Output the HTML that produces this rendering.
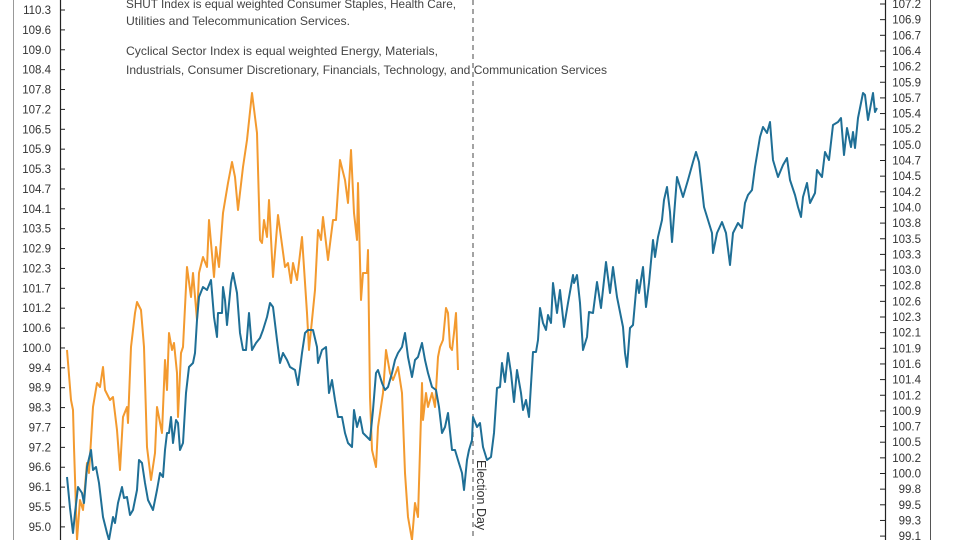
<!DOCTYPE html>
<html><head><meta charset="utf-8"><style>
html,body{margin:0;padding:0;background:#fff;}
svg{display:block;font-family:"Liberation Sans",sans-serif;}
</style></head><body>
<svg width="960" height="540" viewBox="0 0 960 540" xmlns="http://www.w3.org/2000/svg">
<rect width="960" height="540" fill="#fff"/>
<line x1="13.5" y1="0" x2="13.5" y2="540" stroke="#999" stroke-width="1"/>
<line x1="930.5" y1="0" x2="930.5" y2="540" stroke="#555" stroke-width="1"/>
<line x1="60.5" y1="0" x2="60.5" y2="540" stroke="#222" stroke-width="1.2"/>
<line x1="885.5" y1="0" x2="885.5" y2="540" stroke="#222" stroke-width="1.2"/>
<g id="lt" font-size="11.5" fill="#333" text-anchor="end"></g>
<g id="rt" font-size="11.5" fill="#333" text-anchor="start"></g>
<g fill="#444" font-size="12">
<text x="126" y="8" textLength="330" lengthAdjust="spacingAndGlyphs">SHUT Index is equal weighted Consumer Staples, Health Care,</text>
<text x="126" y="25" textLength="224" lengthAdjust="spacingAndGlyphs">Utilities and Telecommunication Services.</text>
<text x="126" y="55" textLength="312" lengthAdjust="spacingAndGlyphs">Cyclical Sector Index is equal weighted Energy, Materials,</text>
<text x="126" y="74" textLength="481" lengthAdjust="spacingAndGlyphs">Industrials, Consumer Discretionary, Financials, Technology, and Communication Services</text>
</g>
<line x1="473" y1="0" x2="473" y2="540" stroke="#666" stroke-width="1.2" stroke-dasharray="5,4"/>
<text transform="translate(477,460) rotate(90)" font-size="12.5" fill="#333">Election Day</text>
<polyline fill="none" stroke="#f39a2f" stroke-width="2" stroke-linejoin="round" points="67,350 71,400 73,410 74,447 77,540 80,500 83,510 87,463 89,473 93,407 97,383 100,387 103,367 105,390 110,400 113,397 117,430 120,470 123,417 127,407 128,423 131,347 135,313 137,302 141,310 144,347 147,447 151,480 155,453 157,407 162,433 165,360 167,390 169,333 172,350 174,343 177,373 178,417 181,353 183,347 187,267 191,297 193,273 197,320 199,273 203,257 207,267 209,220 214,277 216,247 219,267 223,213 228,183 232,162 235,177 238,210 243,167 247,140 252,93 257,133 260,240 262,243 264,220 267,237 269,200 273,277 278,215 285,267 288,263 291,283 293,263 297,280 302,237 307,313 309,350 315,290 318,230 321,240 323,217 328,260 333,220 336,220 340,160 345,180 348,203 351,150 354,213 357,240 358,183 361,300 363,273 367,273 368,250 370,397 372,450 376,467 378,427 383,393 386,350 390,373 393,380 398,367 402,393 405,473 408,517 412,540 415,503 418,517 422,383 423,420 426,393 428,407 432,393 435,407 438,357 440,347 443,340 446,308 448,313 450,347 452,350 454,333 456,313 458,370"/>
<polyline fill="none" stroke="#1f6f96" stroke-width="2" stroke-linejoin="round" points="67,477 70,508 73,533 75,513 78,487 82,493 84,503 87,467 91,450 93,470 96,467 99,483 103,517 107,533 109,540 113,517 115,523 118,503 122,487 124,498 127,497 130,515 133,510 137,490 139,460 142,463 145,483 148,500 153,510 157,490 160,473 163,477 165,450 167,433 169,433 171,417 173,443 176,420 178,423 180,450 183,443 186,393 189,367 193,363 195,353 197,320 199,297 203,287 207,290 211,280 214,317 217,337 218,313 222,313 223,287 225,300 227,325 231,283 233,273 237,293 240,333 243,350 246,350 249,313 252,350 256,343 260,338 263,330 267,317 270,303 273,307 277,340 280,363 283,353 287,360 290,367 295,370 298,385 302,353 305,333 308,330 313,330 317,347 318,363 322,350 326,347 329,393 332,380 335,400 338,417 342,417 345,433 348,443 352,447 354,410 357,427 360,417 363,433 367,437 370,440 373,410 376,373 378,370 382,383 385,390 388,387 392,373 395,360 398,353 402,347 405,333 408,357 412,377 415,360 418,357 422,343 425,360 428,373 432,387 436,390 439,407 442,433 445,427 448,413 452,450 455,450 458,460 462,473 464,490 467,460 469,450 472,440 473,417 477,427 480,423 483,447 487,460 491,457 494,433 497,388 500,387 502,363 505,382 508,353 511,373 514,402 517,370 521,393 523,410 526,400 529,417 533,352 536,352 538,340 540,308 543,323 546,330 548,315 551,323 553,283 557,313 560,290 564,327 568,303 573,275 574,283 577,275 580,303 583,350 587,337 589,312 593,313 597,282 601,308 606,262 610,293 613,267 617,297 620,312 623,327 625,353 627,367 630,328 633,325 637,280 639,293 643,267 646,307 649,283 653,240 655,257 658,237 662,220 664,200 667,187 670,212 672,242 677,177 683,197 688,180 693,162 696,152 699,162 704,207 708,220 712,233 713,253 717,233 722,222 726,233 730,265 733,233 738,223 742,228 745,203 748,195 752,190 755,167 760,137 763,127 767,133 770,122 773,160 778,177 783,165 787,158 790,180 795,195 798,207 801,217 803,197 807,183 810,203 815,193 817,170 822,177 825,152 829,160 833,125 838,122 841,118 844,155 847,128 851,147 853,132 855,148 858,118 863,93 865,95 868,120 873,93 875,112 877,108"/>
<script>
var L=["110.3","109.6","109.0","108.4","107.8","107.2","106.5","105.9","105.3","104.7","104.1","103.5","102.9","102.3","101.7","101.2","100.6","100.0","99.4","98.9","98.3","97.7","97.2","96.6","96.1","95.5","95.0"];
var R=["107.2","106.9","106.7","106.4","106.2","105.9","105.7","105.4","105.2","105.0","104.7","104.5","104.2","104.0","103.8","103.5","103.3","103.0","102.8","102.6","102.3","102.1","101.9","101.6","101.4","101.2","100.9","100.7","100.5","100.2","100.0","99.8","99.5","99.3","99.1"];
var ns="http://www.w3.org/2000/svg",s=document.querySelector("svg"),lt=document.getElementById("lt"),rt=document.getElementById("rt");
function mk(t,a){var e=document.createElementNS(ns,t);for(var k in a)e.setAttribute(k,a[k]);return e;}
L.forEach(function(v,i){var y=10+i*19.88;lt.appendChild(mk("line",{x1:60,x2:65,y1:y,y2:y,stroke:"#222"}));var t=mk("text",{x:51,y:y+4});t.textContent=v;lt.appendChild(t);});
R.forEach(function(v,i){var y=4+i*15.65;rt.appendChild(mk("line",{x1:880,x2:885,y1:y,y2:y,stroke:"#222"}));var t=mk("text",{x:921,y:y+4,"text-anchor":"end"});t.textContent=v;rt.appendChild(t);});
</script>
</svg>
</body></html>
